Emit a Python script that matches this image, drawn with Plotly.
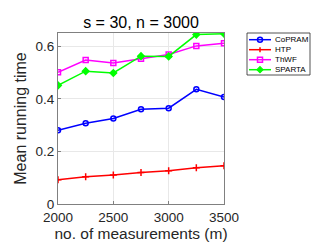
import plotly.graph_objects as go

m = [2000, 2250, 2500, 2750, 3000, 3250, 3500]
copram = [0.280, 0.307, 0.325, 0.360, 0.364, 0.436, 0.407]
htp = [0.092, 0.104, 0.110, 0.120, 0.126, 0.138, 0.145]
thwf = [0.501, 0.547, 0.536, 0.552, 0.568, 0.601, 0.611]
sparta = [0.451, 0.505, 0.498, 0.562, 0.561, 0.644, 0.647]

names = ["CoPRAM", "HTP", "ThWF", "SPARTA"]
values = [copram, htp, thwf, sparta]
colors = ["#0000FF", "#FF0000", "#FF00FF", "#00FF00"]
symbols = ["circle-open", "cross-thin-open", "square-open", "diamond"]

W, H = 324, 243
L, R, T, B = 50, 216, 25, 196

fig = go.Figure()
for name, vals, col, sym in zip(names, values, colors, symbols):
    fig.add_trace(go.Scatter(
        x=m, y=vals, name=name, mode="lines+markers", showlegend=False,
        line=dict(color=col, width=1.5),
        marker=dict(symbol=sym, size=5, color=col, line=dict(color=col, width=1.5)),
    ))

def px(xp):
    return (xp - L) / (R - L)

def py(yp):
    return (B - yp) / (B - T)

shapes = []
annotations = []
# legend box
shapes.append(dict(type="rect", xref="paper", yref="paper",
                   x0=px(239), x1=px(302), y0=py(67), y1=py(25),
                   line=dict(color="#262626", width=0.8), fillcolor="white", layer="above"))
rows = [31.7, 41.7, 51.7, 61.7]
for i, (name, col) in enumerate(zip(names, colors)):
    yc = rows[i]
    shapes.append(dict(type="line", xref="paper", yref="paper",
                       x0=px(241), x1=px(263), y0=py(yc), y1=py(yc),
                       line=dict(color=col, width=1.5), layer="above"))
    cx, r = 252, 2.5
    if i == 0:
        shapes.append(dict(type="circle", xref="paper", yref="paper",
                           x0=px(cx - r), x1=px(cx + r), y0=py(yc + r), y1=py(yc - r),
                           line=dict(color=col, width=1.5), layer="above"))
    elif i == 1:
        shapes.append(dict(type="line", xref="paper", yref="paper",
                           x0=px(cx), x1=px(cx), y0=py(yc + r), y1=py(yc - r),
                           line=dict(color=col, width=1.5), layer="above"))
    elif i == 2:
        shapes.append(dict(type="rect", xref="paper", yref="paper",
                           x0=px(cx - r), x1=px(cx + r), y0=py(yc + r), y1=py(yc - r),
                           line=dict(color=col, width=1.5), layer="above"))
    else:
        d = 3
        path = "M {} {} L {} {} L {} {} L {} {} Z".format(
            px(cx - d), py(yc), px(cx), py(yc - d), px(cx + d), py(yc), px(cx), py(yc + d))
        shapes.append(dict(type="path", xref="paper", yref="paper", path=path,
                           line=dict(color=col, width=1.2), fillcolor=col, layer="above"))
    annotations.append(dict(text=name, xref="paper", yref="paper", x=px(265), y=py(yc),
                            xanchor="left", yanchor="middle", showarrow=False,
                            font=dict(size=8, color="#000000")))

fig.update_layout(
    width=W, height=H,
    margin=dict(l=L, r=W - R, t=T, b=H - B),
    paper_bgcolor="white", plot_bgcolor="white",
    font=dict(family="Liberation Sans, Arial", color="#262626"),
    title=dict(text="s = 30, n = 3000", x=(L + R) / 2 / W, xanchor="center",
               y=1 - 14 / H, yanchor="middle", font=dict(size=16, color="#000000")),
    xaxis=dict(range=[2000, 3500], tickvals=[2000, 2500, 3000, 3500],
               showgrid=True, gridcolor="#E8E8E8", gridwidth=1,
               showline=True, linecolor="#808080", linewidth=1, mirror=True,
               ticks="inside", ticklen=3, tickcolor="#808080",
               tickfont=dict(size=13.5), zeroline=False, ticklabelstandoff=1,
               title=dict(text="no. of measurements (m)", font=dict(size=15.5), standoff=0)),
    yaxis=dict(range=[0, 0.65], tickvals=[0, 0.2, 0.4, 0.6],
               showgrid=True, gridcolor="#E8E8E8", gridwidth=1,
               showline=True, linecolor="#808080", linewidth=1, mirror=True,
               ticks="inside", ticklen=3, tickcolor="#808080",
               tickfont=dict(size=13.5), zeroline=False,
               title=dict(text="Mean running time", font=dict(size=16), standoff=4)),
    shapes=shapes,
    annotations=annotations,
    showlegend=False,
)

fig.write_html("out.html")
